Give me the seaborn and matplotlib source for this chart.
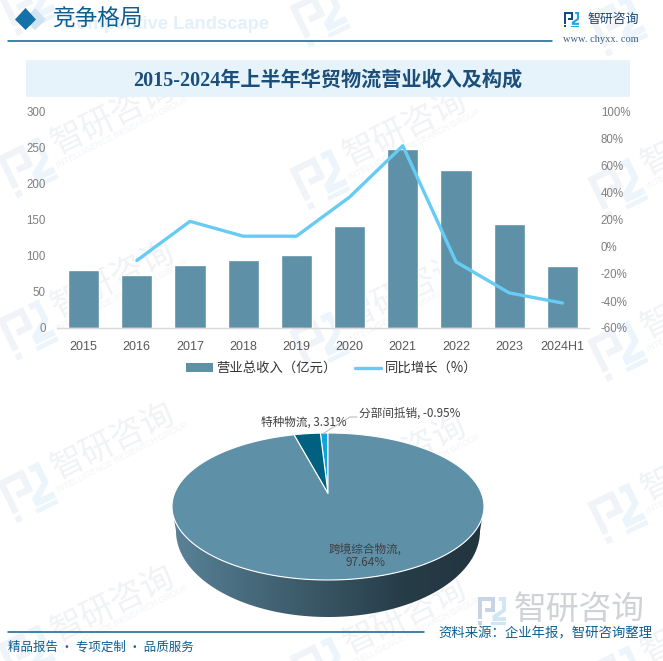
import numpy as np
import pandas as pd
import matplotlib
matplotlib.use("Agg")
import matplotlib.pyplot as plt
import seaborn as sns
from matplotlib.patches import Polygon, Rectangle
from matplotlib.colors import LinearSegmentedColormap
from matplotlib.lines import Line2D
from matplotlib.transforms import Affine2D

# ---------- data ----------
years = ["2015", "2016", "2017", "2018", "2019", "2020", "2021", "2022", "2023", "2024H1"]
revenue = [80, 73, 87, 94, 102, 141, 248, 220, 145, 86]
growth = [np.nan, -10, 19, 8, 8, 37, 75, -11, -34, -41.5]
rev_ticks = [0, 50, 100, 150, 200, 250, 300]
growth_ticks = [-60, -40, -20, 0, 20, 40, 60, 80, 100]
pie_names = ["跨境综合物流", "特种物流", "分部间抵销"]
pie_values = [97.64, 3.31, -0.95]

TITLE = "2015-2024年上半年华贸物流营业收入及构成"
HEADER = "竞争格局"
BAR_LABEL = "营业总收入（亿元）"
LINE_LABEL = "同比增长（%）"
SOURCE = "资料来源：企业年报，智研咨询整理"
FOOTER = "精品报告 · 专项定制 · 品质服务"

W, H = 663, 661
CJK = ["Noto Sans CJK SC", "DejaVu Sans"]
sns.set_theme(style="white")
plt.rcParams["font.family"] = CJK
plt.rcParams["axes.unicode_minus"] = False

BAR = "#5e90a8"
LINE = "#66ccf4"
NAVY = "#0d5f91"

fig = plt.figure(figsize=(W / 100, H / 100), dpi=100, facecolor="white")


def px_axes(x0, y0, x1, y1, **kw):
    return fig.add_axes([x0 / W, 1 - y1 / H, (x1 - x0) / W, (y1 - y0) / H], **kw)


# ---------- pixel canvas for page decoration ----------
deco = fig.add_axes([0, 0, 1, 1], zorder=0)
deco.set_xlim(0, W)
deco.set_ylim(H, 0)
deco.axis("off")


def draw_logo(cx, cy, size, angle, c1, c2, z=1):
    """Bracket-style company mark, unit square centred on (cx, cy)."""
    tr = Affine2D().scale(size).rotate_deg(angle).translate(cx, cy) + deco.transData
    p1 = [(-.5, -.5), (.12, -.5), (.12, .02), (-.24, .02), (-.24, -.12), (-.02, -.12),
          (-.02, -.36), (-.36, -.36), (-.36, .28), (-.5, .28)]
    p2 = [(-.5, .36), (-.36, .36), (-.36, .5), (-.5, .5)]
    p3 = [(.24, -.5), (.5, -.5), (.5, .0), (.2, .22), (.5, .22), (.5, .36), (.02, .36),
          (.02, .16), (.36, -.06), (.36, -.36), (.24, -.36)]
    p4 = [(-.02, .4), (.5, .4), (.5, .5), (-.02, .5)]
    for pts, c in ((p1, c1), (p2, c1), (p3, c2), (p4, c2)):
        deco.add_patch(Polygon(pts, closed=True, fc=c, ec="none", transform=tr, zorder=z))


# watermark grid
for col, (lx, ly0) in enumerate(((28, 5), (320, 17), (618, 26))):
    for row in range(5):
        ly = ly0 + row * 162.5
        draw_logo(lx, ly, 46, -26, "#f0f3f7", "#ecf5fb")
        if row > 0:
            deco.text(lx + 85, ly - 51, "智研咨询", fontsize=24, color="#f0f2f5", rotation=26,
                      ha="center", va="center", rotation_mode="anchor", zorder=1)
            deco.text(lx + 94, ly - 35, "INTELLIGENCE RESEARCH GROUP", fontsize=6.2, color="#f2f4f7",
                      rotation=27, ha="center", va="center", rotation_mode="anchor", zorder=1,
                      family="Liberation Sans")

# header
deco.text(63, 24.5, "Competitive Landscape", fontsize=13.2, fontweight="bold", color="#e3f0f9",
          ha="left", va="center", family="Liberation Sans", zorder=2)
deco.add_patch(Polygon([(35, 8), (46, 19.5), (35, 30), (24, 19.5)], fc="#cfe3f0", ec="none", zorder=3))
deco.add_patch(Polygon([(25.5, 8), (36, 19.5), (25.5, 30), (15, 19.5)], fc="#1472a8", ec="none", zorder=3))
deco.text(52.5, 19, HEADER, fontsize=16.3, color=NAVY, ha="left", va="center", zorder=4)
deco.plot([8, 552], [41, 41], color=NAVY, lw=1.1, zorder=3)
draw_logo(571.5, 19.5, 15, 0, "#0f4c87", "#29a3dc", z=4)
deco.text(587, 19, "智研咨询", fontsize=9.3, color="#17467a", ha="left", va="center", zorder=4)
deco.text(601, 39, "www. chyxx. com", fontsize=7.5, color="#3d5f85", ha="center", va="center",
          family="Liberation Serif", zorder=4)

# title band
deco.add_patch(Rectangle((26, 60), 604, 37, fc="#e6f3fb", ec="none", zorder=2))
deco.text(328, 81, TITLE, fontsize=14.5, fontweight="bold", color="#1b4f7a", ha="center", va="center",
          family=["Liberation Serif", "Noto Sans CJK SC"], zorder=3)

# footer
deco.plot([8, 424], [632, 632], color=NAVY, lw=1.1, zorder=3)
deco.text(8, 647, FOOTER, fontsize=9, color=NAVY, ha="left", va="center", zorder=4)
draw_logo(492, 611, 28, 0, "#c9d3e6", "#cfe6f4", z=2)
deco.text(579, 610, "智研咨询", fontsize=23.6, color="#cfd2d6", ha="center", va="center", zorder=2)
deco.text(652, 633, SOURCE, fontsize=9.65, color=NAVY, ha="right", va="center", zorder=4)

# ---------- combo chart ----------
ax = px_axes(57, 112, 589, 328, zorder=2)
ax.patch.set_alpha(0)
df = pd.DataFrame({"year": years, "revenue": revenue, "growth": growth, "pos": np.arange(len(years))})
sns.barplot(data=df, x="year", y="revenue", color=BAR, saturation=1, width=0.585, ax=ax, zorder=2)
ax.set_xlim(-0.5, len(years) - 0.5)
ax.set_ylim(rev_ticks[0], rev_ticks[-1])
ax.set_yticks(rev_ticks)
ax.set_xlabel("")
ax.set_ylabel("")
for s in ("top", "left", "right"):
    ax.spines[s].set_visible(False)
ax.spines["bottom"].set_color("#d9d9d9")
ax.spines["bottom"].set_linewidth(1)
ax.tick_params(axis="x", length=0, pad=9.5, labelsize=9, labelcolor="#595959")
ax.tick_params(axis="y", length=0, pad=8, labelsize=8.3, labelcolor="#7f7f7f")
for t in ax.get_xticklabels() + ax.get_yticklabels():
    t.set_family("Liberation Sans")

ax2 = ax.twinx()
ax2.patch.set_alpha(0)
sns.lineplot(data=df.dropna(subset=["growth"]), x="pos", y="growth", color=LINE, lw=2.4, ax=ax2,
             errorbar=None, legend=False, zorder=5)
ax2.set_ylim(growth_ticks[0], growth_ticks[-1])
ax2.set_yticks(growth_ticks)
ax2.set_yticklabels([f"{v}%" for v in growth_ticks])
ax2.set_ylabel("")
ax2.set_xlabel("")
for s in ax2.spines.values():
    s.set_visible(False)
ax2.tick_params(axis="y", length=0, pad=8.5, labelsize=8.3, labelcolor="#7f7f7f")
for t in ax2.get_yticklabels():
    t.set_family("Liberation Sans")

fig.legend(
    handles=[Rectangle((0, 0), 1, 1, fc=BAR, ec="none"), Line2D([0], [0], color=LINE, lw=2.4)],
    labels=[BAR_LABEL, LINE_LABEL], loc="center", bbox_to_anchor=(331.5 / W, 1 - 368 / H), ncol=2,
    frameon=False, fontsize=9.6, handlelength=2.0, handleheight=0.6, handletextpad=0.25,
    columnspacing=1.37, labelcolor="#333333",
)

# ---------- 3-D looking pie ----------
CX, CY, RX, RY = 328, 506.5, 156, 73.5
DEPTH_RX, DEPTH_CY, DEPTH_RY = 152, 531, 86
APEX_SHIFT = 13 / RY

stops = ["#5a8297", "#476a7c", "#375361", "#263c47", "#21353e"]
cmap = LinearSegmentedColormap.from_list("wall", stops)
t = np.linspace(np.pi, 2 * np.pi, 200)
top_edge = np.c_[CX + RX * np.cos(t), CY - RY * np.sin(t)]
low_edge = np.c_[CX + DEPTH_RX * np.cos(t), DEPTH_CY - DEPTH_RY * np.sin(t)]
wall_pts = np.vstack([top_edge, low_edge[::-1]])
im = deco.imshow(np.linspace(0, 1, 256)[None, :], cmap=cmap, extent=(CX - RX, CX + RX, 640, 490),
                 aspect="auto", zorder=5)
deco.set_xlim(0, W)
deco.set_ylim(H, 0)
clip = Polygon(wall_pts, closed=True, fc="none", ec="none", transform=deco.transData)
deco.add_patch(clip)
im.set_clip_path(clip)

pie_ax = px_axes(CX - RX, CY - RY, CX + RX, CY + RY, zorder=3)
pie_ax.patch.set_alpha(0)
sizes = np.abs(pie_values)[::-1]
wedges, _ = pie_ax.pie(sizes, startangle=90, counterclock=True, radius=1,
                       colors=["#0ea5dc", "#00607f", BAR], normalize=True)
pie_ax.set_aspect("auto")
pie_ax.set_xlim(-1, 1)
pie_ax.set_ylim(-1, 1)
pie_ax.axis("off")
for w in wedges:
    a = np.radians(np.linspace(w.theta1, w.theta2, 240))
    x = np.r_[0, np.cos(a)]
    y = np.r_[0, np.sin(a)]
    d = 1 + APEX_SHIFT * y
    xp = x * np.sqrt(1 - APEX_SHIFT ** 2) / d
    yp = (y + APEX_SHIFT) / d
    pie_ax.add_patch(Polygon(np.c_[xp, yp], closed=True, fc=w.get_facecolor(), ec="white", lw=0.8,
                             joinstyle="round", clip_on=False))
    w.set_visible(False)

# labels sit above the pie axes
over = fig.add_axes([0, 0, 1, 1], zorder=4)
over.set_xlim(0, W)
over.set_ylim(H, 0)
over.axis("off")
label_kw = dict(fontsize=8.4, color="#404040", va="center")
pct = [f"{v:.2f}%" for v in pie_values]
over.text(365, 549, f"{pie_names[0]},", ha="center", **label_kw)
over.text(365, 563, pct[0], ha="center", **label_kw)
over.text(261, 422, f"{pie_names[1]}, {pct[1]}", ha="left", **label_kw)
over.text(359, 413, f"{pie_names[2]}, {pct[2]}", ha="left", **label_kw)
over.plot([357, 350, 324], [417, 417, 433], color="#bfbfbf", lw=0.8)

fig.savefig("out.png", dpi=100)
